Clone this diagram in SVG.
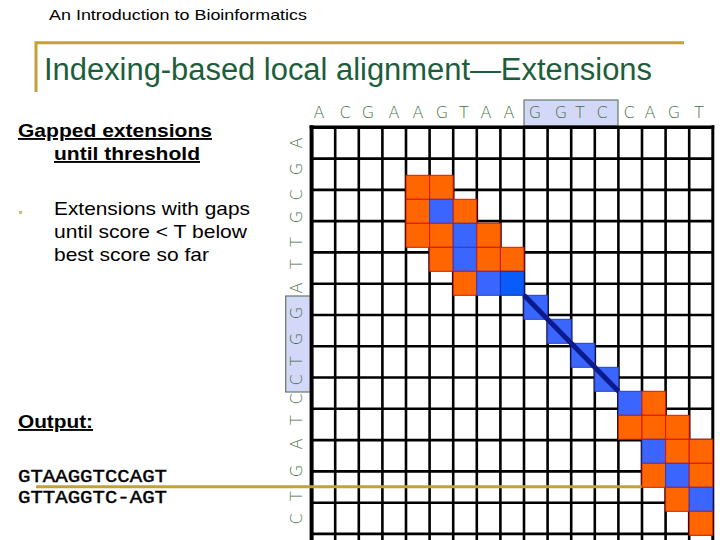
<svg xmlns="http://www.w3.org/2000/svg" width="720" height="540" viewBox="0 0 720 540">
<style>
.hdr{font-family:"Liberation Sans",Arial,sans-serif;font-size:15px;fill:#000}
.title{font-family:"Liberation Sans",Arial,sans-serif;font-size:31px;fill:#1C5E3C}
.txt{font-family:"Liberation Sans",Arial,sans-serif;font-size:19px;fill:#000}
.bold{font-weight:bold;text-decoration:underline}
.mono{font-family:"Liberation Mono","Courier New",monospace;font-size:18px;fill:#000;stroke:#000;stroke-width:0.45}
.seq{font-family:"DejaVu Sans","Liberation Sans",sans-serif;font-weight:200;font-size:16px;fill:#3F6E42;text-anchor:middle}
.gold{stroke:#C4A038;stroke-width:3;fill:none}
.grid line{stroke:#000;stroke-width:2.6}
.o{fill:#FF6600;stroke:#D8140A;stroke-width:1}
.b{fill:#3A66FF;stroke:#2A3CC8;stroke-width:1}
.bb{fill:#0A5CFA;stroke:#1A2EB0;stroke-width:1}
.hl{fill:#D4D8F8;stroke:#5F7A6A;stroke-width:1.2}
</style>

<g id="header">
<text class="hdr" x="49" y="20" textLength="258" lengthAdjust="spacingAndGlyphs">An Introduction to Bioinformatics</text>
<path class="gold" d="M36,92 V42.7 H684"/>
<text class="title" x="44" y="80" textLength="608" lengthAdjust="spacingAndGlyphs">Indexing-based local alignment—Extensions</text>
</g>

<g id="left-text">
<text class="txt bold" x="18" y="137" textLength="194" lengthAdjust="spacingAndGlyphs">Gapped extensions</text>
<text class="txt bold" x="54" y="160" textLength="146" lengthAdjust="spacingAndGlyphs">until threshold</text>
<rect x="19" y="211" width="3" height="3" fill="#C8C070"/>
<text class="txt" x="54" y="215" textLength="196" lengthAdjust="spacingAndGlyphs">Extensions with gaps</text>
<text class="txt" x="54" y="238" textLength="193" lengthAdjust="spacingAndGlyphs">until score &lt; T below</text>
<text class="txt" x="54" y="261" textLength="155" lengthAdjust="spacingAndGlyphs">best score so far</text>
<text class="txt bold" x="18" y="428" textLength="75" lengthAdjust="spacingAndGlyphs">Output:</text>
<text class="mono" x="18" y="482" textLength="149" lengthAdjust="spacingAndGlyphs">GTAAGGTCCAGT</text>
<text class="mono" x="18" y="503" textLength="149" lengthAdjust="spacingAndGlyphs">GTTAGGTC-AGT</text>
</g>

<g id="highlights">
<rect class="hl" x="524" y="100" width="94" height="26"/>
<rect class="hl" x="285.7" y="296" width="25.3" height="96"/>
</g>

<g id="col-letters">
<text class="seq" x="319" y="118">A</text>
<text class="seq" x="345" y="118">C</text>
<text class="seq" x="368" y="118">G</text>
<text class="seq" x="394" y="118">A</text>
<text class="seq" x="418" y="118">A</text>
<text class="seq" x="442" y="118">G</text>
<text class="seq" x="464" y="118">T</text>
<text class="seq" x="486" y="118">A</text>
<text class="seq" x="509" y="118">A</text>
<text class="seq" x="535" y="118">G</text>
<text class="seq" x="561" y="118">G</text>
<text class="seq" x="580" y="118">T</text>
<text class="seq" x="602" y="118">C</text>
<text class="seq" x="629" y="118">C</text>
<text class="seq" x="650" y="118">A</text>
<text class="seq" x="674" y="118">G</text>
<text class="seq" x="699" y="118">T</text>
</g>

<g id="row-letters">
<text class="seq" x="302" y="143" transform="rotate(-90 302 143)">A</text>
<text class="seq" x="302" y="169" transform="rotate(-90 302 169)">G</text>
<text class="seq" x="302" y="195" transform="rotate(-90 302 195)">C</text>
<text class="seq" x="302" y="217" transform="rotate(-90 302 217)">G</text>
<text class="seq" x="302" y="242" transform="rotate(-90 302 242)">T</text>
<text class="seq" x="302" y="264" transform="rotate(-90 302 264)">T</text>
<text class="seq" x="302" y="288" transform="rotate(-90 302 288)">A</text>
<text class="seq" x="302" y="313" transform="rotate(-90 302 313)">G</text>
<text class="seq" x="302" y="339" transform="rotate(-90 302 339)">G</text>
<text class="seq" x="302" y="361" transform="rotate(-90 302 361)">T</text>
<text class="seq" x="302" y="380" transform="rotate(-90 302 380)">C</text>
<text class="seq" x="302" y="399" transform="rotate(-90 302 399)">C</text>
<text class="seq" x="302" y="420" transform="rotate(-90 302 420)">T</text>
<text class="seq" x="302" y="444" transform="rotate(-90 302 444)">A</text>
<text class="seq" x="302" y="471" transform="rotate(-90 302 471)">G</text>
<text class="seq" x="302" y="496" transform="rotate(-90 302 496)">T</text>
<text class="seq" x="302" y="519" transform="rotate(-90 302 519)">C</text>
</g>

<g id="grid" class="grid">
<line x1="311.6" y1="125.3" x2="311.6" y2="540" style="stroke-width:4"/>
<line x1="335.2" y1="127.3" x2="335.2" y2="540"/>
<line x1="358.8" y1="127.3" x2="358.8" y2="540"/>
<line x1="382.4" y1="127.3" x2="382.4" y2="540"/>
<line x1="406" y1="127.3" x2="406" y2="540"/>
<line x1="429.6" y1="127.3" x2="429.6" y2="540"/>
<line x1="453.2" y1="127.3" x2="453.2" y2="540"/>
<line x1="476.8" y1="127.3" x2="476.8" y2="540"/>
<line x1="500.4" y1="127.3" x2="500.4" y2="540"/>
<line x1="524" y1="127.3" x2="524" y2="540"/>
<line x1="547.6" y1="127.3" x2="547.6" y2="540"/>
<line x1="571.2" y1="127.3" x2="571.2" y2="540"/>
<line x1="594.8" y1="127.3" x2="594.8" y2="540"/>
<line x1="618.4" y1="127.3" x2="618.4" y2="540"/>
<line x1="642" y1="127.3" x2="642" y2="540"/>
<line x1="665.6" y1="127.3" x2="665.6" y2="540"/>
<line x1="689.2" y1="127.3" x2="689.2" y2="540"/>
<line x1="712.8" y1="125.3" x2="712.8" y2="540" style="stroke-width:3"/>
<line x1="309.6" y1="127.3" x2="714.3" y2="127.3" style="stroke-width:3.4"/>
<line x1="311.6" y1="158.6" x2="712.8" y2="158.6"/>
<line x1="311.6" y1="189.9" x2="712.8" y2="189.9"/>
<line x1="311.6" y1="221.1" x2="712.8" y2="221.1"/>
<line x1="311.6" y1="252.4" x2="712.8" y2="252.4"/>
<line x1="311.6" y1="283.7" x2="712.8" y2="283.7"/>
<line x1="311.6" y1="315" x2="712.8" y2="315"/>
<line x1="311.6" y1="346.3" x2="712.8" y2="346.3"/>
<line x1="311.6" y1="377.5" x2="712.8" y2="377.5"/>
<line x1="311.6" y1="408.8" x2="712.8" y2="408.8"/>
<line x1="311.6" y1="440.1" x2="712.8" y2="440.1"/>
<line x1="311.6" y1="471.4" x2="712.8" y2="471.4"/>
<line x1="311.6" y1="502.7" x2="712.8" y2="502.7"/>
<line x1="311.6" y1="533.9" x2="712.8" y2="533.9"/>
</g>

<g id="output-rule">
<line class="gold" x1="36" y1="486.7" x2="642" y2="486.7"/>
</g>

<g id="cells">
<rect class="o" x="406" y="175.3" width="23.6" height="24"/>
<rect class="o" x="429.6" y="175.3" width="23.6" height="24"/>
<rect class="o" x="406" y="199.3" width="23.6" height="24"/>
<rect class="b" x="429.6" y="199.3" width="23.6" height="24"/>
<rect class="o" x="453.2" y="199.3" width="23.6" height="24"/>
<rect class="o" x="406" y="223.3" width="23.6" height="24"/>
<rect class="o" x="429.6" y="223.3" width="23.6" height="24"/>
<rect class="b" x="453.2" y="223.3" width="23.6" height="24"/>
<rect class="o" x="476.8" y="223.3" width="23.6" height="24"/>
<rect class="o" x="429.6" y="247.3" width="23.6" height="24"/>
<rect class="b" x="453.2" y="247.3" width="23.6" height="24"/>
<rect class="o" x="476.8" y="247.3" width="23.6" height="24"/>
<rect class="o" x="500.4" y="247.3" width="23.6" height="24"/>
<rect class="o" x="453.2" y="271.3" width="23.6" height="24"/>
<rect class="b" x="476.8" y="271.3" width="23.6" height="24"/>
<rect class="bb" x="500.4" y="271.3" width="23.6" height="24"/>
<rect class="b" x="524" y="295.3" width="23.6" height="24"/>
<rect class="b" x="547.6" y="319.3" width="23.6" height="24"/>
<rect class="b" x="571.2" y="343.3" width="23.6" height="24"/>
<rect class="b" x="594.8" y="367.3" width="23.6" height="24"/>
<rect class="b" x="618.4" y="391.3" width="23.6" height="24"/>
<rect class="o" x="642" y="391.3" width="23.6" height="24"/>
<rect class="o" x="618.4" y="415.3" width="23.6" height="24"/>
<rect class="o" x="642" y="415.3" width="23.6" height="24"/>
<rect class="o" x="665.6" y="415.3" width="23.6" height="24"/>
<rect class="b" x="642" y="439.3" width="23.6" height="24"/>
<rect class="o" x="665.6" y="439.3" width="23.6" height="24"/>
<rect class="o" x="689.2" y="439.3" width="23.6" height="24"/>
<rect class="o" x="642" y="463.3" width="23.6" height="24"/>
<rect class="b" x="665.6" y="463.3" width="23.6" height="24"/>
<rect class="o" x="689.2" y="463.3" width="23.6" height="24"/>
<rect class="o" x="665.6" y="487.3" width="23.6" height="24"/>
<rect class="b" x="689.2" y="487.3" width="23.6" height="24"/>
<rect class="o" x="689.2" y="511.3" width="23.6" height="24"/>
</g>

<g id="connectors">
<line x1="524" y1="295.3" x2="618.4" y2="391.3" stroke="#0B1A8C" stroke-width="5"/>
</g>
</svg>
